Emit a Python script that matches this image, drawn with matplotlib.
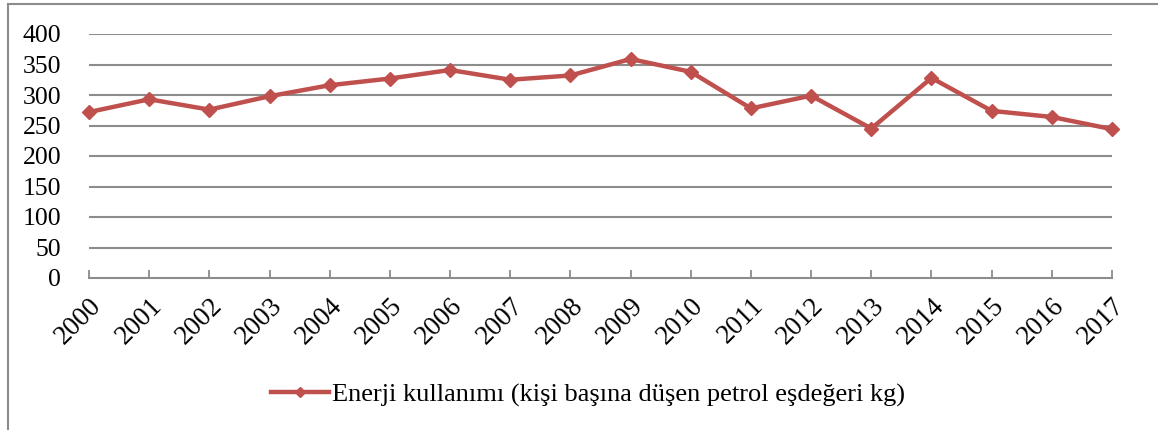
import matplotlib
matplotlib.use("Agg")
import matplotlib.pyplot as plt
from matplotlib.lines import Line2D

plt.rcParams['font.family'] = ['Liberation Serif', 'DejaVu Serif']

years = list(range(2000, 2018))
energy = [272, 293, 276, 298, 316, 327, 341, 325, 332, 359,
          338, 278, 299, 245, 328, 274, 264, 244]
yticks = [0, 50, 100, 150, 200, 250, 300, 350, 400]
label = 'Enerji kullanımı (kişi başına düşen petrol eşdeğeri kg)'

W, H = 1158, 430
fig = plt.figure(figsize=(W / 100, H / 100), dpi=100)
ax = fig.add_axes([89 / W, 1 - 278 / H, (1112 - 89) / W, (278 - 34) / H])

# outer chart frame (left and top edges visible)
fig.add_artist(Line2D([8 / W, 8 / W], [0, 1 - 4 / H], color='#8c8c8c', lw=1.5,
                      transform=fig.transFigure))
fig.add_artist(Line2D([8 / W, 1], [1 - 4 / H, 1 - 4 / H], color='#8c8c8c', lw=1.5,
                      transform=fig.transFigure))

line, = ax.plot(years, energy, color='#C0504D', lw=3.2, marker='D', ms=7,
                label=label, clip_on=False, zorder=5)

ax.set_xlim(2000, 2017)
ax.set_ylim(0, 400)
ax.set_yticks(yticks)
ax.set_xticks(years)
ax.set_xticklabels([str(y) for y in years], rotation=45, ha='right',
                   rotation_mode='anchor', fontsize=19.5)
ax.tick_params(axis='y', length=0, labelsize=18.5, pad=20)
ax.tick_params(axis='x', direction='in', length=6, width=1.3, color='#8c8c8c', pad=11)
for t in yticks[1:]:
    ax.axhline(t, color='#8c8c8c', lw=1.5, zorder=1)

for s in ['left', 'right', 'top']:
    ax.spines[s].set_visible(False)
ax.spines['bottom'].set_color('#8c8c8c')
ax.spines['bottom'].set_linewidth(1.5)

fig.legend(handles=[line], loc='center', bbox_to_anchor=(588 / W, 1 - 395 / H),
           frameon=False, fontsize=19, handlelength=2.2, handletextpad=0.1,
           markerscale=0.7)

fig.savefig('out.png', dpi=100)
